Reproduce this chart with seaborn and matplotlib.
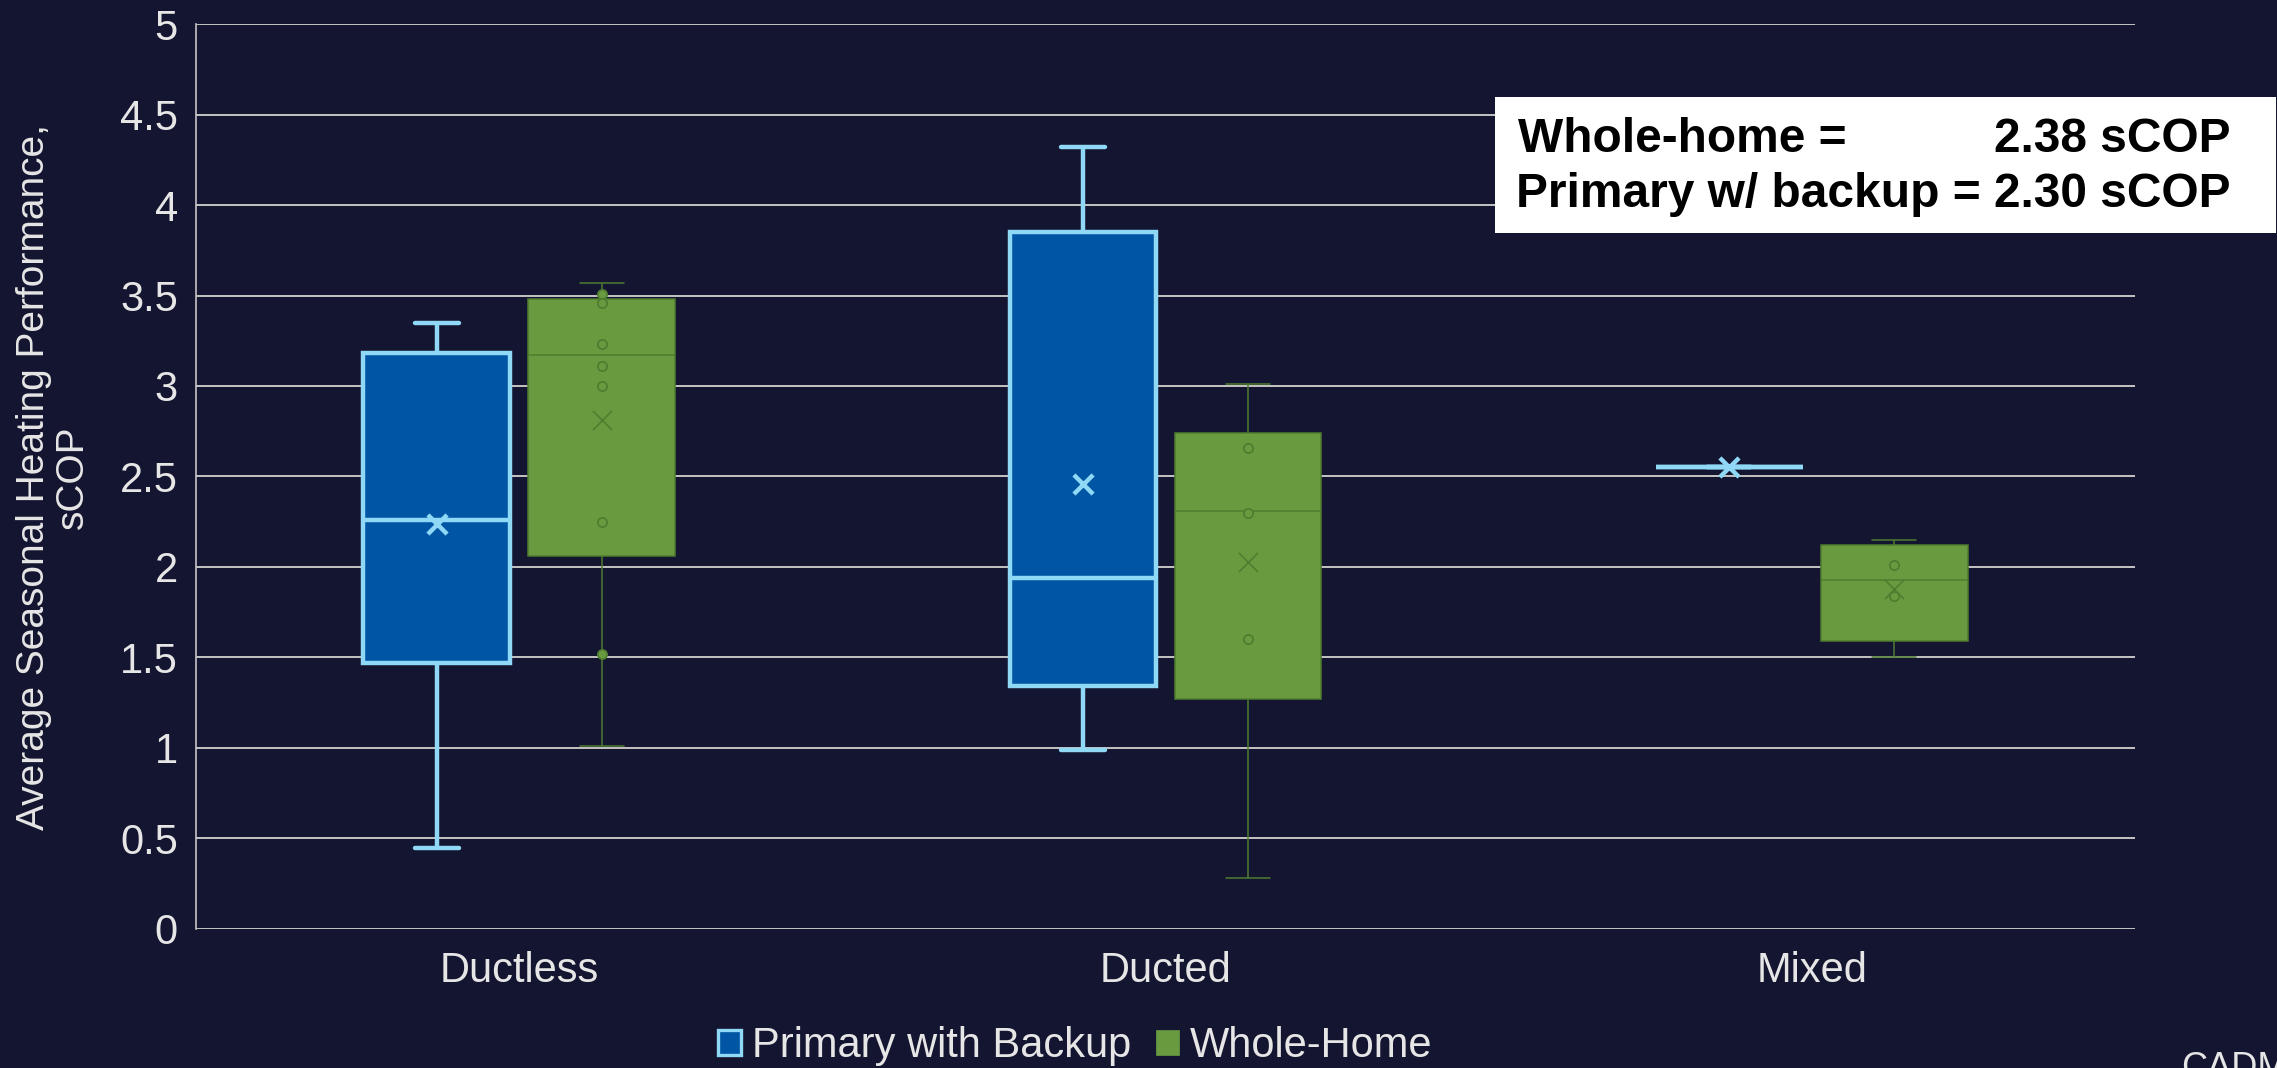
import numpy as np
import pandas as pd
import matplotlib
matplotlib.use("Agg")
import matplotlib.pyplot as plt
from matplotlib.patches import Patch, Rectangle
import seaborn as sns

# ---------------- data ----------------
categories = ["Ductless", "Ducted", "Mixed"]
series = ["Primary with Backup", "Whole-Home"]

# Primary with Backup: box statistics per category
pwb_low = [0.45, 0.99, 2.55]
pwb_q1 = [1.47, 1.34, 2.55]
pwb_median = [2.26, 1.94, 2.55]
pwb_q3 = [3.18, 3.85, 2.55]
pwb_high = [3.35, 4.32, 2.55]
pwb_mean = [2.24, 2.46, 2.55]

# Whole-Home: box statistics per category
wh_low = [1.01, 0.28, 1.50]
wh_q1 = [2.06, 1.27, 1.59]
wh_median = [3.17, 2.31, 1.93]
wh_q3 = [3.48, 2.74, 2.12]
wh_high = [3.57, 3.01, 2.15]
wh_mean = [2.81, 2.03, 1.88]

# Whole-Home inner points
wh_points_ductless = [3.51, 3.46, 3.23, 3.11, 3.00, 2.25, 1.52]
wh_points_ducted = [2.66, 2.30, 1.60]
wh_points_mixed = [2.01, 1.84]

y_ticks = [0, 0.5, 1, 1.5, 2, 2.5, 3, 3.5, 4, 4.5, 5]
y_tick_labels = ["0", "0.5", "1", "1.5", "2", "2.5", "3", "3.5", "4", "4.5", "5"]

y_label = "Average Seasonal Heating Performance,\nsCOP"
summary_left = "Whole-home ="
summary_whole_home = "2.38 sCOP"
summary_primary = "Primary w/ backup = 2.30 sCOP"
footer_text = "CADMUS"

# ---------------- style ----------------
BG = "#141530"
BLUE_FILL = "#0055A4"
BLUE_LINE = "#8FD9F7"
GREEN_FILL = "#6A9A40"
GREEN_LINE = "#4E7C2F"
GRID = "#C4C4C4"
TEXT = "#E6E6E6"

sns.set_theme(style="dark")
plt.rcParams["font.family"] = ["Liberation Sans", "DejaVu Sans"]
plt.rcParams["axes.facecolor"] = BG
plt.rcParams["figure.facecolor"] = BG

fig = plt.figure(figsize=(22.77, 10.68), dpi=100)
ax = fig.add_axes([0.0861, 0.1302, 0.8515, 0.8473])
ax.set_facecolor(BG)

# ---------------- build tables ----------------
stats_by_series = {
    series[0]: [pwb_low, pwb_q1, pwb_median, pwb_q3, pwb_high],
    series[1]: [wh_low, wh_q1, wh_median, wh_q3, wh_high],
}
rows = []
for s, stat_arrays in stats_by_series.items():
    for i, c in enumerate(categories):
        for arr in stat_arrays:
            rows.append({"category": c, "system": s, "sCOP": arr[i]})
box_df = pd.DataFrame(rows)

palette = {series[0]: BLUE_FILL, series[1]: GREEN_FILL}
line_colors = {series[0]: BLUE_LINE, series[1]: GREEN_LINE}
line_widths = {series[0]: 3.2, series[1]: 1.1}

group_width = 0.51
box_gap = 0.11

for s in series:
    sns.boxplot(
        data=box_df[box_df["system"] == s], x="category", y="sCOP",
        hue="system", order=categories, hue_order=series, palette=palette,
        saturation=1, width=group_width, gap=box_gap, dodge=True,
        whis=(0, 100), linecolor=line_colors[s], linewidth=line_widths[s],
        showfliers=False, legend=False, capwidths=0.068, ax=ax,
        zorder=2,
    )

# positions of dodged groups on the categorical axis
cat_index = {c: i for i, c in enumerate(categories)}
offsets = {series[0]: -group_width / 4, series[1]: group_width / 4}

# inner points for Whole-Home
pt_rows = []
for c, pts in zip(categories, [wh_points_ductless, wh_points_ducted, wh_points_mixed]):
    for v in pts:
        pt_rows.append({"x": cat_index[c] + offsets[series[1]], "sCOP": v})
pt_df = pd.DataFrame(pt_rows)
sns.scatterplot(data=pt_df, x="x", y="sCOP", marker="o", s=45,
                color=GREEN_FILL, edgecolor=GREEN_LINE, linewidth=1.2,
                ax=ax, zorder=3, legend=False)

# means
mean_specs = [(series[0], pwb_mean, BLUE_LINE, 3.2, 190),
              (series[1], wh_mean, GREEN_LINE, 1.1, 190)]
for s, means, col, lw, size in mean_specs:
    mdf = pd.DataFrame({"x": [cat_index[c] + offsets[s] for c in categories],
                        "sCOP": means})
    sns.scatterplot(data=mdf, x="x", y="sCOP", marker="x", s=size,
                    color=col, linewidth=lw, ax=ax, zorder=4, legend=False)

# ---------------- axes styling ----------------
ax.set_xlim(-0.5, 2.5)
ax.set_ylim(0, 5)
ax.set_yticks(y_ticks)
ax.set_yticklabels(y_tick_labels)
ax.set_xticks(range(len(categories)))
ax.set_xticklabels(categories)
ax.set_xlabel("")
ax.set_ylabel("")
ax.set_axisbelow(True)
ax.yaxis.grid(True, color=GRID, linewidth=1.4)
ax.xaxis.grid(False)
for side in ["top", "right", "bottom"]:
    ax.spines[side].set_visible(False)
ax.spines["left"].set_visible(True)
ax.spines["left"].set_color(GRID)
ax.spines["left"].set_linewidth(1.2)
ax.tick_params(axis="y", length=0, labelsize=30, labelcolor=TEXT, pad=13)
ax.tick_params(axis="x", length=0, labelsize=30, labelcolor=TEXT, pad=16)

fig.text(0.0235, 0.5534, y_label, rotation=90, ha="center", va="center",
         multialignment="center", fontsize=28, color=TEXT, linespacing=1.13)

# legend
handles = [
    Patch(facecolor=BLUE_FILL, edgecolor=BLUE_LINE, linewidth=2.4),
    Patch(facecolor=GREEN_FILL, edgecolor=GREEN_FILL, linewidth=0.5),
]
fig.legend(handles, series, loc="center", bbox_to_anchor=(0.4723, 0.0205),
           ncol=2, frameon=False, fontsize=30, labelcolor=TEXT,
           handlelength=0.55, handleheight=0.55, handletextpad=0.26,
           columnspacing=0.6, borderpad=0, borderaxespad=0)

# summary box
fig.patches.append(Rectangle((1495 / 2277, 1 - 233 / 1068),
                             (2276 - 1495) / 2277, (233 - 97) / 1068,
                             transform=fig.transFigure, facecolor="white",
                             edgecolor="none", zorder=5))
fig.text(1518 / 2277, 1 - 152 / 1068, summary_left, ha="left", va="baseline",
         fontsize=34.5, fontweight="bold", color="black", zorder=6)
fig.text(2230 / 2277, 1 - 152 / 1068, summary_whole_home, ha="right",
         va="baseline", fontsize=34.5, fontweight="bold", color="black", zorder=6)
fig.text(2230 / 2277, 1 - 207 / 1068, summary_primary, ha="right",
         va="baseline", fontsize=34.5, fontweight="bold", color="black", zorder=6)

fig.text(2181 / 2277, 1 - 1078 / 1068, footer_text, ha="left", va="baseline",
         fontsize=26, color=TEXT)

fig.savefig("out.png", dpi=100, facecolor=BG)
